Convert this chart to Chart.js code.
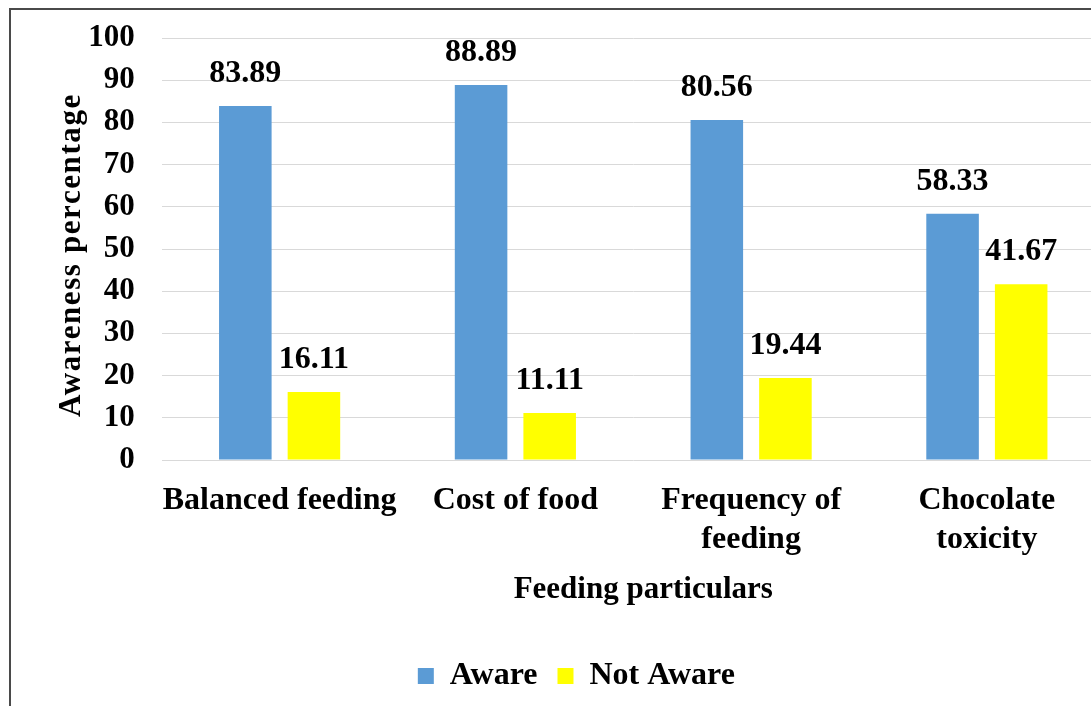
<!DOCTYPE html>
<html>
<head>
<meta charset="utf-8">
<script src="https://cdn.jsdelivr.net/npm/chart.js@4.4.1/dist/chart.umd.min.js"></script>
<style>
  html, body { margin: 0; padding: 0; background: #fff; overflow: hidden; width: 1091px; height: 706px; }
  canvas { position: absolute; left: 0; top: 0; }
  #frame { position: absolute; left: 9px; top: 8px; width: 1200px; height: 800px;
           border-top: 2px solid #4a4a4a; border-left: 2px solid #4a4a4a; pointer-events: none; }
</style>
</head>
<body>
<canvas id="chart" width="1130" height="706"></canvas>
<div id="frame"></div>
<script>
// Feeding awareness survey
const categories = [['Balanced feeding'], ['Cost of food'], ['Frequency of', 'feeding'], ['Chocolate', 'toxicity']];
const awareValues = [83.89, 88.89, 80.56, 58.33];
const notAwareValues = [16.11, 11.11, 19.44, 41.67];
const seriesNames = ['Aware', 'Not Aware'];
const yTickValues = [0, 10, 20, 30, 40, 50, 60, 70, 80, 90, 100];
const yTitle = 'Awareness percentage';
const xTitle = 'Feeding particulars';

const FONT = '"Liberation Serif", "Times New Roman", serif';

// Value labels above each bar
const valueLabels = {
  id: 'valueLabels',
  afterDatasetsDraw(chart) {
    const ctx = chart.ctx;
    ctx.save();
    ctx.font = 'bold 32px ' + FONT;
    ctx.fillStyle = '#000';
    ctx.textAlign = 'center';
    ctx.textBaseline = 'alphabetic';
    chart.data.datasets.forEach((ds, i) => {
      chart.getDatasetMeta(i).data.forEach((bar, j) => {
        ctx.fillText(ds.data[j].toFixed(2), bar.x, bar.y - 24);
      });
    });
    ctx.restore();
  }
};

// Axis titles
const axisTitles = {
  id: 'axisTitles',
  afterDraw(chart) {
    const ctx = chart.ctx;
    const area = chart.chartArea;
    ctx.save();
    ctx.fillStyle = '#000';
    ctx.font = 'bold 31px ' + FONT;
    ctx.textAlign = 'center';
    ctx.textBaseline = 'alphabetic';
    ctx.fillText(xTitle, (area.left + area.right) / 2 + 10, 598);
    ctx.translate(80, 255);
    ctx.rotate(-Math.PI / 2);
    ctx.letterSpacing = '1.6px';
    ctx.fillText(yTitle, 0, 0);
    ctx.restore();
  }
};

new Chart(document.getElementById('chart'), {
  type: 'bar',
  data: {
    labels: categories,
    datasets: [
      { label: seriesNames[0], data: awareValues, backgroundColor: '#5B9BD5' },
      { label: seriesNames[1], data: notAwareValues, backgroundColor: '#FFFF00' }
    ]
  },
  options: {
    responsive: false,
    devicePixelRatio: 1,
    animation: false,
    layout: { padding: { left: 48, right: 25.25, top: 38, bottom: 4 } },
    datasets: { bar: { categoryPercentage: 0.582, barPercentage: 0.766 } },
    plugins: {
      legend: {
        position: 'bottom',
        labels: {
          color: '#000',
          font: { family: FONT, size: 32, weight: 'bold' },
          boxWidth: 16, boxHeight: 16, padding: 20
        }
      },
      tooltip: { enabled: false }
    },
    scales: {
      x: {
        grid: { display: false, drawTicks: false },
        border: { display: false },
        ticks: {
          color: '#000',
          font: { family: FONT, size: 32, weight: 'bold', lineHeight: 1.2 },
          padding: 22,
          maxRotation: 0, autoSkip: false
        },
        afterFit(scale) { scale.height = 180; }
      },
      y: {
        min: 0, max: 100,
        grid: { color: '#d9d9d9', lineWidth: 1, drawTicks: true, tickLength: 27, tickColor: 'rgba(0,0,0,0)' },
        border: { display: false },
        afterBuildTicks(scale) { scale.ticks = yTickValues.map(v => ({ value: v })); },
        ticks: {
          color: '#000',
          font: { family: FONT, size: 31, weight: 'bold' },
          padding: 0
        },
        afterFit(scale) { scale.width = 113.75; }
      }
    }
  },
  plugins: [valueLabels, axisTitles]
});
</script>
</body>
</html>
